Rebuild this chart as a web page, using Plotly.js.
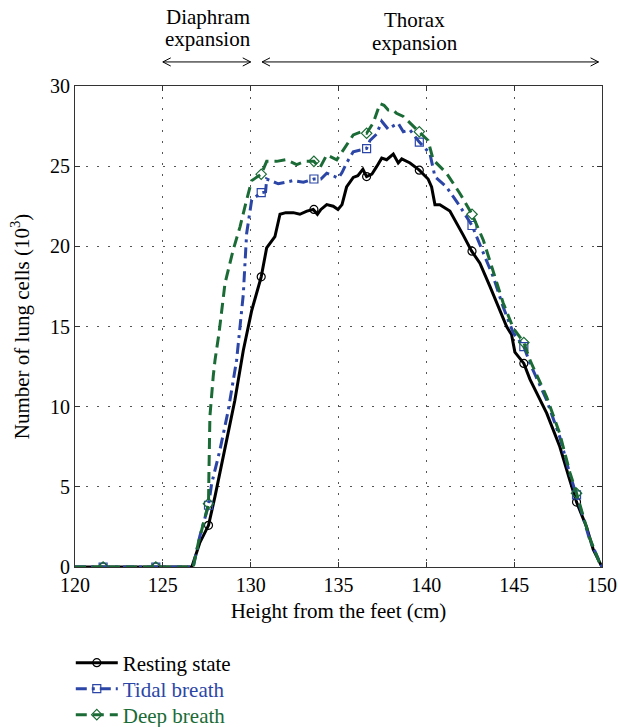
<!DOCTYPE html>
<html><head><meta charset="utf-8">
<script src="https://cdn.plot.ly/plotly-3.0.1.min.js"></script>
<style>body{margin:0;background:#fff}#chart{width:618px;height:727px}</style>
</head><body><div id="chart"></div>
<script>
// ---- data ----
const restX = [120,121.6,124.6,126.65,127.1,127.6,127.97,128.35,128.63,129.1,129.58,130.06,130.6,130.91,131.38,131.67,132.0,132.43,132.8,133.2,133.56,133.8,134.0,134.33,134.7,134.97,135.2,135.46,135.84,136.1,136.39,136.6,136.9,137.17,137.46,137.74,138.12,138.4,138.6,139.07,139.6,140.1,140.3,140.49,140.77,141.34,141.72,142.1,142.58,143.05,143.62,144.09,144.57,144.85,145.04,145.55,145.9,146.85,147.6,148.17,148.55,149.12,149.5,150];
const restY = [0,0,0,0,1.5,2.6,4.4,6.3,7.9,10.4,13.5,16.0,18.1,19.9,20.6,22.0,22.1,22.1,22.0,22.2,22.3,22.0,22.3,22.6,22.5,22.3,22.6,23.7,24.3,24.4,24.8,24.35,24.5,24.97,25.5,25.4,25.75,25.2,25.45,25.2,24.75,24.2,23.7,22.6,22.6,22.2,21.4,20.7,19.7,18.95,17.5,16.2,15.0,14.5,13.4,12.7,11.7,9.6,7.5,5.4,4.05,2.5,1.1,0];

const tidalX = [120,121.6,124.6,126.73,127.1,127.6,127.78,128.25,128.73,129.2,129.58,129.77,130.06,130.6,130.85,130.91,131.57,132.0,132.43,133.0,133.6,134.0,134.33,134.7,134.99,135.2,135.46,135.84,136.2,136.6,136.79,137.17,137.46,137.83,138.1,138.4,138.69,139.07,139.6,140.02,140.2,140.49,141.15,141.91,142.6,143.24,143.81,144.38,144.95,145.55,145.9,146.85,147.6,148.17,148.55,148.93,149.3,149.88,150];
const tidalY = [0,0,0,0,1.9,3.85,5.2,7.3,9.8,12.9,17.0,20.8,22.9,23.35,23.4,24.2,23.9,24.0,24.1,24.0,24.2,24.2,24.56,24.4,24.25,24.6,25.2,25.9,26.0,26.1,26.6,27.0,27.8,27.3,27.5,27.67,27.15,27.26,26.5,26.0,25.8,24.35,23.7,22.5,21.3,19.6,18.1,16.2,14.6,13.75,12.7,10.4,8.1,5.8,4.5,3.1,1.7,0.2,0];

const deepX = [120,121.6,124.6,126.73,127.02,127.6,127.62,127.68,127.87,127.97,128.2,128.54,129.01,129.39,129.77,130.06,130.6,130.91,131.48,132.0,132.62,133.1,133.6,133.94,134.33,134.9,135.27,135.84,136.32,136.6,136.98,137.36,137.59,137.83,138.12,138.3,138.69,138.88,139.6,140.1,140.39,141.15,141.91,142.6,143.24,143.81,144.38,144.95,145.55,145.9,146.85,147.6,148.17,148.55,148.93,149.3,149.88,150];
const deepY = [0,0,0,0,1.5,3.95,5.6,9.4,11.9,12.9,14.6,17.7,19.8,21.2,22.9,24.1,24.5,25.3,25.3,25.4,25.1,25.3,25.3,24.9,25.7,25.4,26.0,26.95,27.15,27.05,27.7,28.9,28.8,28.5,28.5,28.3,28.1,27.9,27.15,26.6,25.4,24.56,23.3,22.0,20.4,18.5,16.45,14.9,14.0,12.9,10.6,8.3,5.9,4.6,3.2,1.8,0.2,0];

const markerX = [121.6,124.6,127.6,130.6,133.6,136.6,139.6,142.6,145.55,148.55];
const restMarkY  = [0,0,2.6,18.1,22.3,24.35,24.75,19.7,12.7,4.05];
const tidalMarkY = [0,0,3.85,23.35,24.2,26.1,26.5,21.3,13.75,4.5];
const deepMarkY  = [0,0,3.95,24.5,25.3,27.05,27.15,22.0,14.0,4.6];

const seriesNames = ['Resting state','Tidal breath','Deep breath'];
const xTicks = [120,125,130,135,140,145,150];
const yTicks = [0,5,10,15,20,25,30];
const diaphragmSpan = [125, 130];
const thoraxSpan = [130.65, 149.8];
const annoLines = [['Diaphram','expansion'],['Thorax','expansion']];

// ---- styling ----
const FONT = 'Liberation Serif, Times New Roman, serif';
const cBlack = '#000000', cBlue = '#2b46a6', cGreen = '#1b6b36';
const styles = [
  {color:cBlack, dash:'solid', symbol:'circle-open', x:restX, y:restY, my:restMarkY},
  {color:cBlue, dash:'11px,5px,3px,5px', symbol:'square-open', x:tidalX, y:tidalY, my:tidalMarkY},
  {color:cGreen, dash:'11px,6px', symbol:'diamond-open', x:deepX, y:deepY, my:deepMarkY}
];
const legendIds = ['legend','legend2','legend3'];

const traces = [];
styles.forEach((s,i)=>{
  traces.push({x:s.x, y:s.y, type:'scatter', mode:'lines', showlegend:false, hoverinfo:'skip',
    line:{color:s.color, width:3, dash:s.dash, shape:'linear'}});
  traces.push({x:markerX, y:s.my, type:'scatter', mode:'markers', showlegend:false, hoverinfo:'skip',
    marker:{symbol:s.symbol, size:8, color:s.color, line:{width:1.2, color:s.color}}});
});
styles.forEach((s,i)=>{
  traces.push({x:[null], y:[null], type:'scatter', mode:'lines+markers', legend:legendIds[i],
    name:'<span style="color:'+s.color+'">'+seriesNames[i]+'</span>',
    line:{color:s.color, width:3, dash:s.dash},
    marker:{symbol:s.symbol, size:8, color:s.color, line:{width:1.2, color:s.color}}});
});

// arrows (double headed, open heads)
const ay = 1.05, hx = 0.45, hy = 0.0085;
function arrowShapes(span){
  const [a,b] = span;
  const ln = {color:'#000', width:1};
  return [
    {type:'line', xref:'x', yref:'paper', x0:a, x1:b, y0:ay, y1:ay, line:ln},
    {type:'path', xref:'x', yref:'paper', path:`M${a+hx},${ay+hy} L${a},${ay} L${a+hx},${ay-hy}`, line:ln},
    {type:'path', xref:'x', yref:'paper', path:`M${b-hx},${ay+hy} L${b},${ay} L${b-hx},${ay-hy}`, line:ln}
  ];
}

const axisCommon = {
  showgrid:true, gridcolor:'#555', griddash:'2px,9px', gridwidth:1,
  showline:true, linecolor:'#333', linewidth:1, mirror:'ticks',
  ticks:'inside', ticklen:5, tickcolor:'#333', zeroline:false, automargin:false,
  tickfont:{family:FONT, size:20, color:'#000'}
};

const TS = 21;
const legendRowY = [663, 689, 715];
function legendBox(py){
  return {x:-0.008, xanchor:'left', yref:'container', y:1 - py/727, yanchor:'middle', bgcolor:'rgba(0,0,0,0)',
    font:{family:FONT, size:TS}, itemwidth:42, tracegroupgap:0};
}
const annoFont = {family:FONT, size:TS};
const layout = {
  width:618, height:727,
  margin:{l:75, r:16, t:86, b:160},
  paper_bgcolor:'#fff', plot_bgcolor:'#fff',
  font:{family:FONT, size:TS, color:'#000'},
  xaxis:Object.assign({}, axisCommon, {range:[120,150], tickvals:xTicks, ticktext:xTicks.map(String),
    title:{text:'Height from the feet (cm)', font:{family:FONT, size:TS}, standoff:8}}),
  yaxis:Object.assign({}, axisCommon, {range:[0,30], tickvals:yTicks, ticktext:yTicks.map(String),
    title:{text:'Number of lung cells (10<sup>3</sup>)', font:{family:FONT, size:TS}, standoff:14}}),
  legend:legendBox(legendRowY[0]),
  legend2:legendBox(legendRowY[1]),
  legend3:legendBox(legendRowY[2]),
  shapes:[...arrowShapes(diaphragmSpan), ...arrowShapes(thoraxSpan)],
  annotations:[
    {text:annoLines[0][0], xref:'x', yref:'paper', x:127.55, y:1.1435, yanchor:'middle', showarrow:false, font:annoFont},
    {text:annoLines[0][1], xref:'x', yref:'paper', x:127.55, y:1.0977, yanchor:'middle', showarrow:false, font:annoFont},
    {text:annoLines[1][0], xref:'x', yref:'paper', x:139.35, y:1.1372, yanchor:'middle', showarrow:false, font:annoFont},
    {text:annoLines[1][1], xref:'x', yref:'paper', x:139.35, y:1.0894, yanchor:'middle', showarrow:false, font:annoFont}
  ]
};

Plotly.newPlot('chart', traces, layout, {staticPlot:true, displayModeBar:false});
</script>
</body></html>
